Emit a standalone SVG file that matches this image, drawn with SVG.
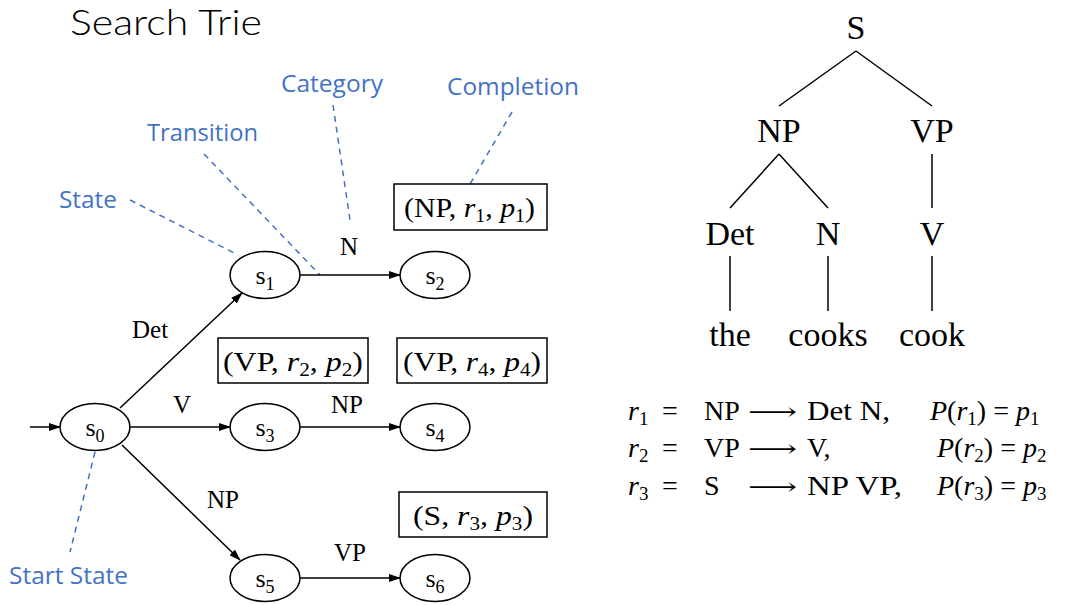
<svg xmlns="http://www.w3.org/2000/svg" width="1075" height="605" viewBox="0 0 1075 605">
<defs>
<marker id="ah" markerWidth="12" markerHeight="8" refX="11" refY="4" orient="auto" markerUnits="userSpaceOnUse">
<path d="M0,0 L12,4 L0,8 z" fill="#000"/>
</marker>
<style>
.bg{fill:#fff}
.st{fill:#fff;stroke:#000;stroke-width:1.5}
.edge{stroke:#000;stroke-width:1.5;fill:none;marker-end:url(#ah)}
.dash{stroke:#4472C4;stroke-width:1.5;stroke-dasharray:6,5;fill:none}
.ann{font-family:"Open Sans","Liberation Sans",sans-serif;font-size:23px;fill:#4472C4}
.ser{font-family:"Liberation Serif","DejaVu Serif",serif;fill:#000}
.nl{font-size:26px}
.el{font-size:25px}
.box{fill:#fff;stroke:#000;stroke-width:1.5}
.bt{font-size:27px}
.tree{font-size:34px}
.tl{stroke:#000;stroke-width:1.5}
.rule{font-size:28px}
.it{font-style:italic}
.arr{font-family:"DejaVu Serif",serif;font-size:24px}
</style>
</defs>
<rect class="bg" x="0" y="0" width="1075" height="605"/>
<text x="70" y="35" font-family="Lato,'Open Sans',sans-serif" font-weight="300" font-size="36" textLength="192" lengthAdjust="spacingAndGlyphs" fill="#000">Search Trie</text>

<g id="annotations">
<text class="ann" x="59" y="208" textLength="58" lengthAdjust="spacingAndGlyphs">State</text>
<text class="ann" x="147" y="141" textLength="111" lengthAdjust="spacingAndGlyphs">Transition</text>
<text class="ann" x="281" y="92" textLength="102" lengthAdjust="spacingAndGlyphs">Category</text>
<text class="ann" x="447" y="95" textLength="132" lengthAdjust="spacingAndGlyphs">Completion</text>
<text class="ann" x="9" y="584" textLength="119" lengthAdjust="spacingAndGlyphs">Start State</text>
<line class="dash" x1="130" y1="200" x2="238" y2="255"/>
<line class="dash" x1="204" y1="154" x2="320" y2="275"/>
<line class="dash" x1="333" y1="105" x2="350" y2="220"/>
<line class="dash" x1="512" y1="112" x2="470" y2="184"/>
<line class="dash" x1="95" y1="452" x2="70" y2="552"/>
</g>

<g id="connectors">
<line class="edge" x1="30" y1="427" x2="60" y2="427"/>
<line class="edge" x1="120" y1="408" x2="242" y2="293"/>
<line class="edge" x1="130" y1="427" x2="230" y2="427"/>
<line class="edge" x1="122" y1="445" x2="240" y2="560"/>
<line class="edge" x1="300" y1="275" x2="400" y2="275"/>
<line class="edge" x1="300" y1="427" x2="400" y2="427"/>
<line class="edge" x1="300" y1="578" x2="400" y2="578"/>
<text class="ser el" x="132" y="338">Det</text>
<text class="ser el" x="173" y="413">V</text>
<text class="ser el" x="340" y="255">N</text>
<text class="ser el" x="331" y="413">NP</text>
<text class="ser el" x="207" y="508">NP</text>
<text class="ser el" x="334" y="561">VP</text>
</g>

<g id="s0"><ellipse class="st" cx="95" cy="427" rx="35" ry="23.5"/><text class="ser nl" x="95" y="436" text-anchor="middle">s<tspan font-size="18" dy="6">0</tspan></text></g>
<g id="s1"><ellipse class="st" cx="265" cy="275" rx="35" ry="23.5"/><text class="ser nl" x="265" y="284" text-anchor="middle">s<tspan font-size="18" dy="6">1</tspan></text></g>
<g id="s2"><ellipse class="st" cx="435" cy="275" rx="35" ry="23.5"/><text class="ser nl" x="435" y="284" text-anchor="middle">s<tspan font-size="18" dy="6">2</tspan></text></g>
<g id="s3"><ellipse class="st" cx="265" cy="427" rx="35" ry="23.5"/><text class="ser nl" x="265" y="436" text-anchor="middle">s<tspan font-size="18" dy="6">3</tspan></text></g>
<g id="s4"><ellipse class="st" cx="435" cy="427" rx="35" ry="23.5"/><text class="ser nl" x="435" y="436" text-anchor="middle">s<tspan font-size="18" dy="6">4</tspan></text></g>
<g id="s5"><ellipse class="st" cx="265" cy="578" rx="35" ry="23.5"/><text class="ser nl" x="265" y="587" text-anchor="middle">s<tspan font-size="18" dy="6">5</tspan></text></g>
<g id="s6"><ellipse class="st" cx="435" cy="578" rx="35" ry="23.5"/><text class="ser nl" x="435" y="587" text-anchor="middle">s<tspan font-size="18" dy="6">6</tspan></text></g>

<g id="c1"><rect class="box" x="394" y="184" width="153" height="46"/><text class="ser bt" x="404" y="217" textLength="131" lengthAdjust="spacingAndGlyphs">(NP, <tspan class="it">r</tspan><tspan font-size="18" dy="5">1</tspan><tspan dy="-5">, </tspan><tspan class="it">p</tspan><tspan font-size="18" dy="5">1</tspan><tspan dy="-5">)</tspan></text></g>
<g id="c2"><rect class="box" x="218" y="338" width="150" height="45"/><text class="ser bt" x="223" y="371" textLength="140" lengthAdjust="spacingAndGlyphs">(VP, <tspan class="it">r</tspan><tspan font-size="18" dy="5">2</tspan><tspan dy="-5">, </tspan><tspan class="it">p</tspan><tspan font-size="18" dy="5">2</tspan><tspan dy="-5">)</tspan></text></g>
<g id="c4"><rect class="box" x="397" y="338" width="150" height="45"/><text class="ser bt" x="403" y="371" textLength="138" lengthAdjust="spacingAndGlyphs">(VP, <tspan class="it">r</tspan><tspan font-size="18" dy="5">4</tspan><tspan dy="-5">, </tspan><tspan class="it">p</tspan><tspan font-size="18" dy="5">4</tspan><tspan dy="-5">)</tspan></text></g>
<g id="c3"><rect class="box" x="399" y="492" width="148" height="45"/><text class="ser bt" x="413" y="525" textLength="120" lengthAdjust="spacingAndGlyphs">(S, <tspan class="it">r</tspan><tspan font-size="18" dy="5">3</tspan><tspan dy="-5">, </tspan><tspan class="it">p</tspan><tspan font-size="18" dy="5">3</tspan><tspan dy="-5">)</tspan></text></g>

<g id="tree">
<line class="tl" x1="856" y1="51" x2="779" y2="106"/>
<line class="tl" x1="856" y1="51" x2="932" y2="106"/>
<line class="tl" x1="779" y1="154" x2="730" y2="208"/>
<line class="tl" x1="779" y1="154" x2="828" y2="208"/>
<line class="tl" x1="932" y1="154" x2="932" y2="208"/>
<line class="tl" x1="730" y1="256" x2="730" y2="311"/>
<line class="tl" x1="828" y1="256" x2="828" y2="311"/>
<line class="tl" x1="932" y1="256" x2="932" y2="311"/>
<text class="ser tree" x="856" y="39" text-anchor="middle">S</text>
<text class="ser tree" x="779" y="142" text-anchor="middle">NP</text>
<text class="ser tree" x="932" y="142" text-anchor="middle">VP</text>
<text class="ser tree" x="730" y="245" text-anchor="middle">Det</text>
<text class="ser tree" x="828" y="245" text-anchor="middle">N</text>
<text class="ser tree" x="932" y="245" text-anchor="middle">V</text>
<text class="ser tree" x="730" y="346" text-anchor="middle">the</text>
<text class="ser tree" x="828" y="346" text-anchor="middle">cooks</text>
<text class="ser tree" x="932" y="346" text-anchor="middle">cook</text>
</g>

<g id="rules" class="ser rule">
<text x="628" y="420"><tspan class="it">r</tspan><tspan font-size="19" dy="5">1</tspan></text>
<text x="662" y="420">=</text>
<text x="704" y="420">NP</text>
<text class="arr" x="748" y="420" textLength="49" lengthAdjust="spacingAndGlyphs">⟶</text>
<text x="807" y="420" textLength="83" lengthAdjust="spacingAndGlyphs">Det N,</text>
<text x="930" y="420"><tspan class="it">P</tspan>(<tspan class="it">r</tspan><tspan font-size="19" dy="5">1</tspan><tspan dy="-5">) = </tspan><tspan class="it">p</tspan><tspan font-size="19" dy="5">1</tspan></text>

<text x="628" y="457"><tspan class="it">r</tspan><tspan font-size="19" dy="5">2</tspan></text>
<text x="662" y="457">=</text>
<text x="704" y="457">VP</text>
<text class="arr" x="748" y="457" textLength="49" lengthAdjust="spacingAndGlyphs">⟶</text>
<text x="807" y="457">V,</text>
<text x="937" y="457"><tspan class="it">P</tspan>(<tspan class="it">r</tspan><tspan font-size="19" dy="5">2</tspan><tspan dy="-5">) = </tspan><tspan class="it">p</tspan><tspan font-size="19" dy="5">2</tspan></text>

<text x="628" y="495"><tspan class="it">r</tspan><tspan font-size="19" dy="5">3</tspan></text>
<text x="662" y="495">=</text>
<text x="704" y="495">S</text>
<text class="arr" x="748" y="495" textLength="49" lengthAdjust="spacingAndGlyphs">⟶</text>
<text x="807" y="495" textLength="95" lengthAdjust="spacingAndGlyphs">NP VP,</text>
<text x="937" y="495"><tspan class="it">P</tspan>(<tspan class="it">r</tspan><tspan font-size="19" dy="5">3</tspan><tspan dy="-5">) = </tspan><tspan class="it">p</tspan><tspan font-size="19" dy="5">3</tspan></text>
</g>
</svg>
